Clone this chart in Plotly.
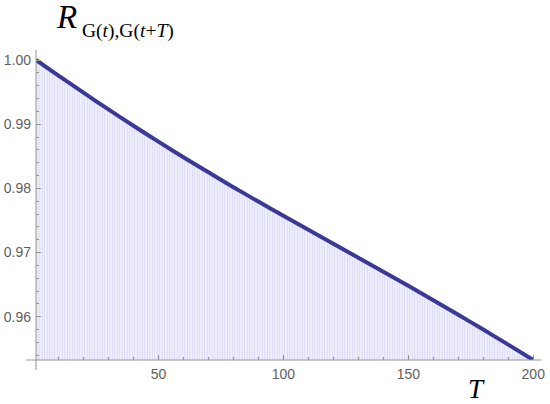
import plotly.graph_objects as go

# Values
T_values = [1, 10, 20, 30, 40, 50, 60, 70, 80, 90, 100, 110, 120, 130, 140, 150, 160, 170, 180, 190, 200]
R_values = [1.00000, 0.99757, 0.99491, 0.99231, 0.98976, 0.98728, 0.98486, 0.98250, 0.98019, 0.97794,
            0.97573, 0.97355, 0.97137, 0.96920, 0.96702, 0.96482, 0.96258, 0.96031, 0.95800, 0.95565, 0.95326]
x_ticks = [50, 100, 150, 200]
y_ticks = [0.96, 0.97, 0.98, 0.99, 1.00]

line_color = "rgb(58,58,150)"
axis_color = "rgb(150,150,150)"
label_color = "rgb(95,95,95)"

fig = go.Figure()
fig.add_trace(go.Scatter(
    x=T_values, y=R_values, mode="lines",
    line=dict(color=line_color, width=4, shape="spline", smoothing=0.6),
    fill="tozeroy",
    fillcolor="rgba(0,0,0,0)",
    fillpattern=dict(shape="|", size=2.5, solidity=0.45,
                     fgcolor="rgb(192,192,235)", bgcolor="rgb(242,242,252)"),
    hoverinfo="skip", showlegend=False,
))

ymin, ymax = 0.95326, 1.00156
fig.update_layout(
    width=550, height=404,
    margin=dict(l=36, r=9, t=50, b=44, autoexpand=False),
    paper_bgcolor="white", plot_bgcolor="white",
    font=dict(family="Liberation Sans", size=14, color=label_color),
    xaxis=dict(range=[1, 203.1], showgrid=False, zeroline=False, showline=False, automargin=False,
               tickvals=x_ticks, ticks="inside", ticklen=5, tickcolor=axis_color,
               ticklabelstandoff=4,
               minor=dict(dtick=10, tick0=0, ticks="inside", ticklen=3, tickcolor=axis_color)),
    yaxis=dict(range=[ymin, ymax], showgrid=False, zeroline=False, showline=False, automargin=False,
               tickvals=y_ticks, tickformat=".2f", ticks="inside", ticklen=5, tickcolor=axis_color,
               ticklabelstandoff=4,
               minor=dict(dtick=0.002, tick0=0.96, ticks="inside", ticklen=3, tickcolor=axis_color)),
    shapes=[
        dict(type="line", xref="paper", yref="paper", x0=-0.02, x1=1, y0=0, y1=0,
             line=dict(color=axis_color, width=1), layer="above"),
        dict(type="line", xref="paper", yref="paper", x0=0, x1=0, y0=-0.032, y1=1,
             line=dict(color=axis_color, width=1), layer="above"),
    ],
    annotations=[
        dict(text="<i>R</i>", xref="paper", yref="paper", x=0.036, y=1.108,
             xanchor="left", yanchor="middle", showarrow=False,
             font=dict(family="Liberation Serif", size=33, color="black")),
        dict(text="G(<i>t</i>),G(<i>t</i>+<i>T</i>)", xref="paper", yref="paper", x=0.088, y=1.060,
             xanchor="left", yanchor="middle", showarrow=False,
             font=dict(family="Liberation Serif", size=19.5, color="black")),
        dict(text="<i>T</i>", xref="paper", yref="paper", x=0.852, y=-0.094,
             xanchor="left", yanchor="middle", showarrow=False,
             font=dict(family="Liberation Serif", size=27, color="black")),
    ],
)

fig.write_html("out.html",
               config={"displayModeBar": False},
               post_script="document.body.style.margin='0';document.body.style.padding='0';")
